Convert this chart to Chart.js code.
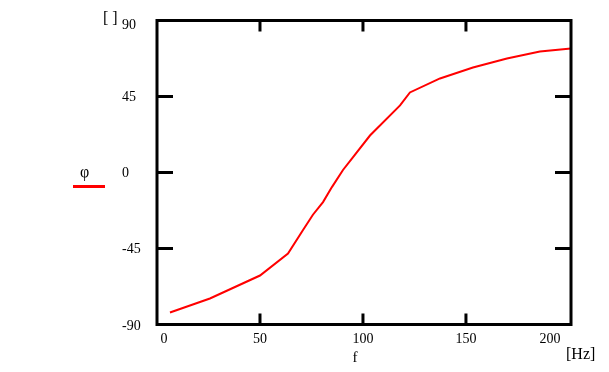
<!DOCTYPE html>
<html>
<head>
<meta charset="utf-8">
<script src="https://cdn.jsdelivr.net/npm/chart.js@4/dist/chart.umd.min.js"></script>
<style>
    body { margin: 0; background: #fff; }
    canvas { display: block; }
</style>
</head>
<body>
<canvas id="phaseChart" width="609" height="372"></canvas>
<script>
// Data
const freq = [6.3, 25.7, 50, 63.6, 70.9, 75.7, 80.6, 85, 90.3, 95.1, 103.4, 118, 122.8, 137.4, 153.4, 169.9, 185.9, 201];
const phase = [-82.9, -74.6, -61, -48, -34, -25, -17.5, -8.5, 1.5, 8.9, 21.9, 39.7, 47.4, 55.7, 62.2, 67.5, 71.6, 73.4];
const xTicks = [0, 50, 100, 150, 200];
const yTicks = [-90, -45, 0, 45, 90];

const FONT = '"Liberation Serif", "Times New Roman", serif';

// Mathcad-like frame, inner ticks and labels
const framePlugin = {
    id: 'frame',
    afterDraw(chart) {
        const ctx = chart.ctx;
        const area = chart.chartArea;
        const xs = chart.scales.x;
        const ys = chart.scales.y;
        ctx.save();
        ctx.strokeStyle = '#000';
        ctx.lineWidth = 3;
        ctx.strokeRect(area.left, area.top, area.right - area.left, area.bottom - area.top);

        // inner ticks
        ctx.beginPath();
        xTicks.forEach(v => {
            const px = xs.getPixelForValue(v);
            if (px <= area.left + 3 || px >= area.right - 3) return;
            ctx.moveTo(px, area.bottom); ctx.lineTo(px, area.bottom - 11);
            ctx.moveTo(px, area.top); ctx.lineTo(px, area.top + 11);
        });
        yTicks.forEach(v => {
            const py = ys.getPixelForValue(v);
            if (py <= area.top + 3 || py >= area.bottom - 3) return;
            ctx.moveTo(area.left, py); ctx.lineTo(area.left + 16, py);
            ctx.moveTo(area.right, py); ctx.lineTo(area.right - 16, py);
        });
        ctx.stroke();

        // tick labels
        ctx.fillStyle = '#000';
        ctx.font = '14px ' + FONT;
        ctx.textBaseline = 'alphabetic';
        xTicks.forEach((v, i) => {
            let px = xs.getPixelForValue(v);
            ctx.textAlign = 'center';
            if (i === 0) px += 7;
            if (i === xTicks.length - 1) px -= 19;
            ctx.fillText(String(v), px, 343);
        });
        ctx.textAlign = 'left';
        ctx.textBaseline = 'middle';
        yTicks.forEach(v => {
            let py = ys.getPixelForValue(v) + 1;
            if (v === 90) py += 4;
            if (v === -90) py += 1;
            ctx.fillText(String(v), 122, py);
        });

        // axis names and units
        ctx.font = '16px ' + FONT;
        ctx.fillText('[ ]', 103, 19);
        ctx.fillText('\u03c6', 80, 173);
        ctx.textBaseline = 'alphabetic';
        ctx.textAlign = 'center';
        ctx.font = '15px ' + FONT;
        ctx.fillText('f', 355, 362);
        ctx.font = '16px ' + FONT;
        ctx.textAlign = 'left';
        ctx.fillText('[Hz]', 566, 359);

        // legend sample line
        ctx.strokeStyle = '#ff0000';
        ctx.lineWidth = 3;
        ctx.beginPath();
        ctx.moveTo(73, 186.5);
        ctx.lineTo(105, 186.5);
        ctx.stroke();
        ctx.restore();
    }
};

const ctx = document.getElementById('phaseChart').getContext('2d');
new Chart(ctx, {
    type: 'line',
    data: {
        datasets: [{
            label: '\u03c6',
            data: freq.map((f, i) => ({ x: f, y: phase[i] })),
            borderColor: '#ff0000',
            borderWidth: 2,
            pointRadius: 0,
            tension: 0,
            fill: false
        }]
    },
    options: {
        responsive: false,
        animation: false,
        layout: {
            padding: { left: 157, top: 20.5, right: 38, bottom: 47.5 }
        },
        plugins: {
            legend: { display: false },
            tooltip: { enabled: false }
        },
        scales: {
            x: { type: 'linear', min: 0, max: 201, display: false },
            y: { type: 'linear', min: -90, max: 90, display: false }
        }
    },
    plugins: [framePlugin]
});
</script>
</body>
</html>
